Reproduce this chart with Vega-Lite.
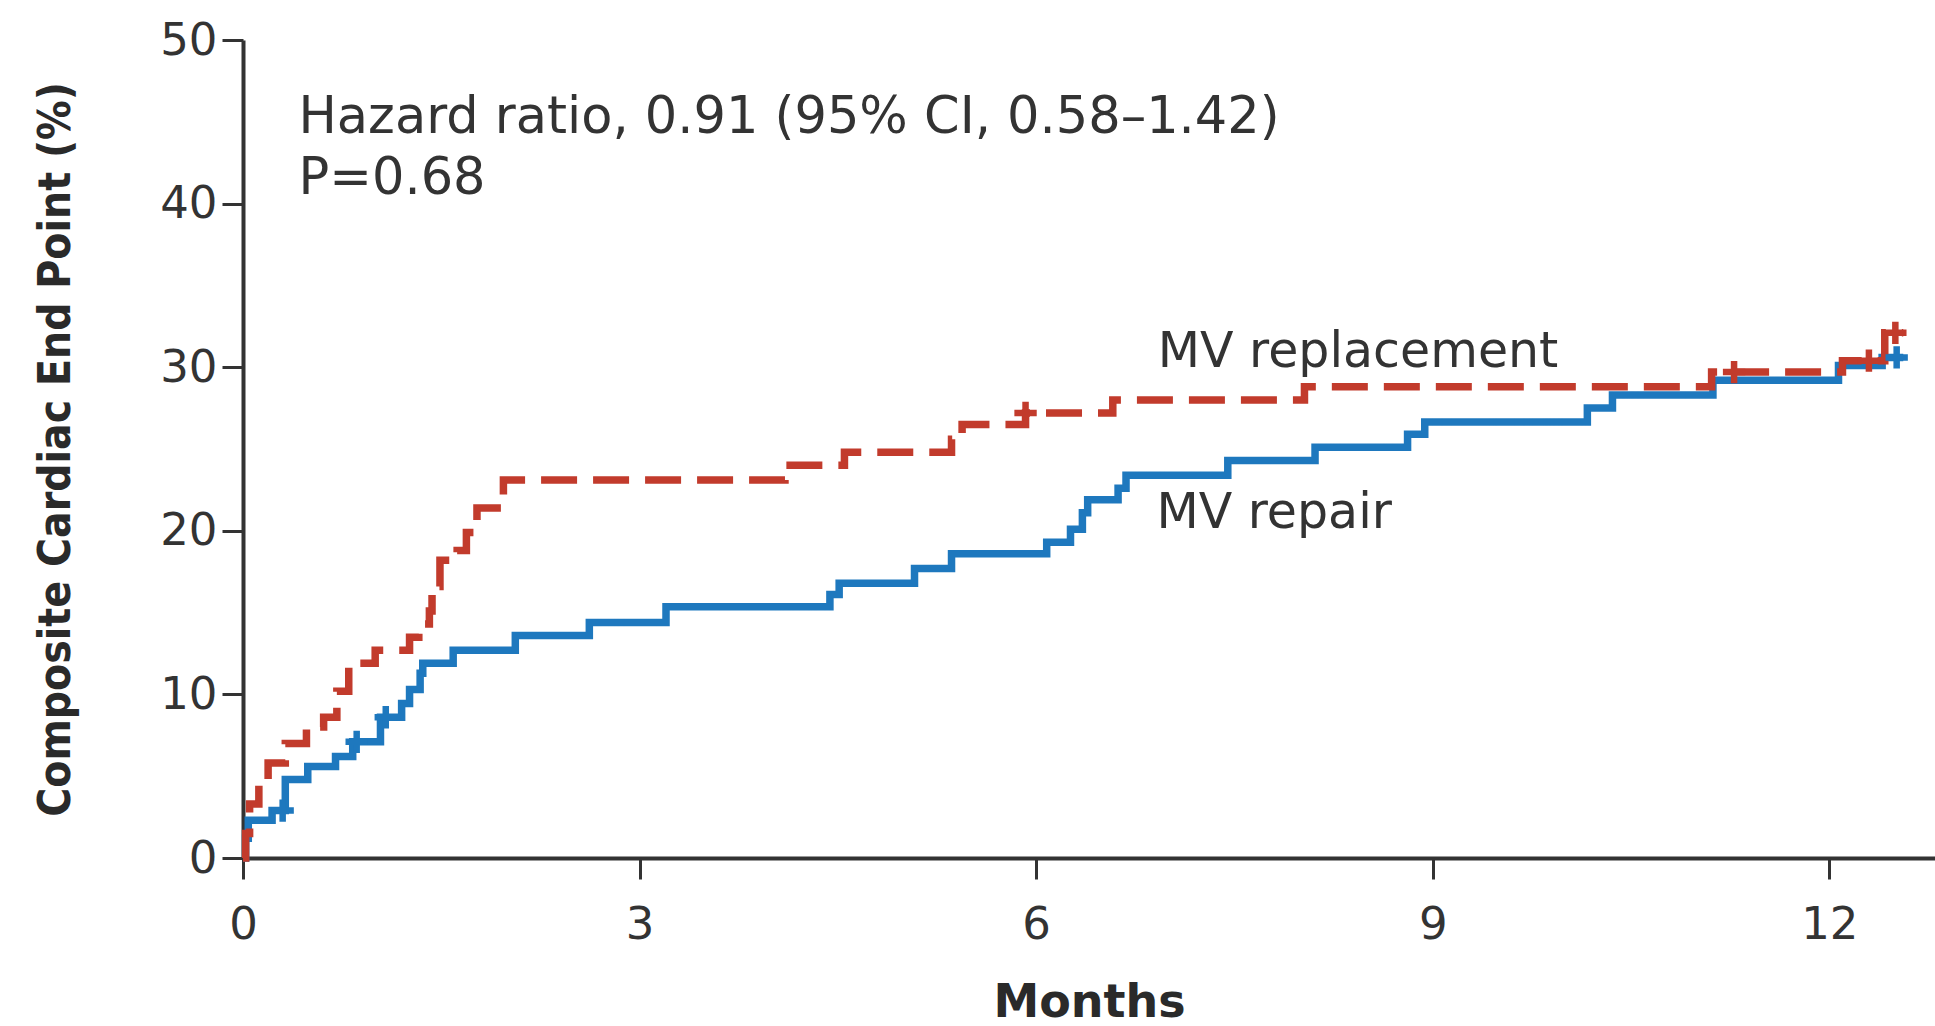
{
  "$schema": "https://vega.github.io/schema/vega-lite/v6.json",
  "width": 1692,
  "height": 818,
  "autosize": {"type": "none"},
  "padding": {"left": 243, "top": 40, "right": 0, "bottom": 168},
  "background": "white",
  "config": {
    "view": {"stroke": null},
    "font": "DejaVu Sans",
    "axis": {
      "domainColor": "#333333",
      "domainWidth": 4,
      "tickColor": "#333333",
      "tickWidth": 3,
      "tickSize": 21,
      "grid": false,
      "labelColor": "#333333",
      "labelFont": "DejaVu Sans",
      "labelFontSize": 45,
      "titleColor": "#2a2a2a",
      "titleFont": "DejaVu Sans"
    }
  },
  "datasets": {
    "curves": [
      {"arm": "MV repair", "month": 0, "pct": 0},
      {"arm": "MV repair", "month": 0.02, "pct": 1.2},
      {"arm": "MV repair", "month": 0.04, "pct": 2.3},
      {"arm": "MV repair", "month": 0.22, "pct": 2.9},
      {"arm": "MV repair", "month": 0.32, "pct": 4.8},
      {"arm": "MV repair", "month": 0.49, "pct": 5.6},
      {"arm": "MV repair", "month": 0.70, "pct": 6.2},
      {"arm": "MV repair", "month": 0.83, "pct": 7.1},
      {"arm": "MV repair", "month": 1.04, "pct": 8.6},
      {"arm": "MV repair", "month": 1.20, "pct": 9.45},
      {"arm": "MV repair", "month": 1.26, "pct": 10.3},
      {"arm": "MV repair", "month": 1.34, "pct": 11.3},
      {"arm": "MV repair", "month": 1.36, "pct": 11.9},
      {"arm": "MV repair", "month": 1.59, "pct": 12.7},
      {"arm": "MV repair", "month": 2.06, "pct": 13.6},
      {"arm": "MV repair", "month": 2.62, "pct": 14.4},
      {"arm": "MV repair", "month": 3.20, "pct": 15.35},
      {"arm": "MV repair", "month": 4.44, "pct": 16.1},
      {"arm": "MV repair", "month": 4.51, "pct": 16.8},
      {"arm": "MV repair", "month": 5.08, "pct": 17.7},
      {"arm": "MV repair", "month": 5.36, "pct": 18.6},
      {"arm": "MV repair", "month": 6.08, "pct": 19.3},
      {"arm": "MV repair", "month": 6.26, "pct": 20.1},
      {"arm": "MV repair", "month": 6.35, "pct": 21.1},
      {"arm": "MV repair", "month": 6.39, "pct": 21.9},
      {"arm": "MV repair", "month": 6.62, "pct": 22.6},
      {"arm": "MV repair", "month": 6.68, "pct": 23.4},
      {"arm": "MV repair", "month": 7.45, "pct": 24.3},
      {"arm": "MV repair", "month": 8.11, "pct": 25.1},
      {"arm": "MV repair", "month": 8.81, "pct": 25.9},
      {"arm": "MV repair", "month": 8.94, "pct": 26.65},
      {"arm": "MV repair", "month": 10.17, "pct": 27.5},
      {"arm": "MV repair", "month": 10.36, "pct": 28.3},
      {"arm": "MV repair", "month": 11.12, "pct": 29.2},
      {"arm": "MV repair", "month": 12.07, "pct": 30.1},
      {"arm": "MV repair", "month": 12.40, "pct": 30.6},
      {"arm": "MV repair", "month": 12.56, "pct": 30.6},
      {"arm": "MV replacement", "month": 0, "pct": 0},
      {"arm": "MV replacement", "month": 0.02, "pct": 1.5},
      {"arm": "MV replacement", "month": 0.05, "pct": 3.3},
      {"arm": "MV replacement", "month": 0.12, "pct": 4.6},
      {"arm": "MV replacement", "month": 0.19, "pct": 5.8},
      {"arm": "MV replacement", "month": 0.32, "pct": 7.0},
      {"arm": "MV replacement", "month": 0.48, "pct": 8.0},
      {"arm": "MV replacement", "month": 0.61, "pct": 8.6},
      {"arm": "MV replacement", "month": 0.71, "pct": 10.2},
      {"arm": "MV replacement", "month": 0.80, "pct": 11.9},
      {"arm": "MV replacement", "month": 1.00, "pct": 12.7},
      {"arm": "MV replacement", "month": 1.26, "pct": 13.5},
      {"arm": "MV replacement", "month": 1.33, "pct": 14.3},
      {"arm": "MV replacement", "month": 1.41, "pct": 15.1},
      {"arm": "MV replacement", "month": 1.43, "pct": 16.6},
      {"arm": "MV replacement", "month": 1.49, "pct": 18.2},
      {"arm": "MV replacement", "month": 1.62, "pct": 18.8},
      {"arm": "MV replacement", "month": 1.69, "pct": 19.9},
      {"arm": "MV replacement", "month": 1.77, "pct": 21.4},
      {"arm": "MV replacement", "month": 1.97, "pct": 23.1},
      {"arm": "MV replacement", "month": 4.10, "pct": 24.0},
      {"arm": "MV replacement", "month": 4.55, "pct": 24.8},
      {"arm": "MV replacement", "month": 5.36, "pct": 25.6},
      {"arm": "MV replacement", "month": 5.44, "pct": 26.5},
      {"arm": "MV replacement", "month": 5.92, "pct": 27.2},
      {"arm": "MV replacement", "month": 6.58, "pct": 28.0},
      {"arm": "MV replacement", "month": 8.03, "pct": 28.8},
      {"arm": "MV replacement", "month": 11.11, "pct": 29.7},
      {"arm": "MV replacement", "month": 12.10, "pct": 30.4},
      {"arm": "MV replacement", "month": 12.42, "pct": 32.1},
      {"arm": "MV replacement", "month": 12.56, "pct": 32.1}
    ],
    "censor": [
      {"arm": "MV repair", "month": 0.30, "pct": 2.9},
      {"arm": "MV repair", "month": 0.86, "pct": 7.1},
      {"arm": "MV repair", "month": 1.08, "pct": 8.6},
      {"arm": "MV repair", "month": 12.51, "pct": 30.6},
      {"arm": "MV replacement", "month": 5.92, "pct": 27.2},
      {"arm": "MV replacement", "month": 11.28, "pct": 29.7},
      {"arm": "MV replacement", "month": 12.30, "pct": 30.4},
      {"arm": "MV replacement", "month": 12.50, "pct": 32.1}
    ],
    "notes": [
      {"label": "Hazard ratio, 0.91 (95% CI, 0.58–1.42)", "month": 0.42, "pct": 44.3, "kind": "stat"},
      {"label": "P=0.68", "month": 0.42, "pct": 40.6, "kind": "stat"},
      {"label": "MV replacement", "month": 6.92, "pct": 30.0, "kind": "arm"},
      {"label": "MV repair", "month": 6.91, "pct": 20.2, "kind": "arm"}
    ]
  },
  "layer": [
    {
      "data": {"name": "curves"},
      "mark": {"type": "line", "interpolate": "step-after", "strokeWidth": 7.5, "strokeCap": "butt", "strokeJoin": "miter"},
      "encoding": {
        "x": {
          "field": "month", "type": "quantitative",
          "scale": {"domain": [0, 12.8], "nice": false, "zero": false},
          "axis": {
            "values": [0, 3, 6, 9, 12],
            "format": "d",
            "title": "Months",
            "titleFontSize": 46,
            "titleFontWeight": "bold",
            "titleBaseline": "alphabetic",
            "titleAnchor": "middle",
            "titleY": 158,
            "labelBaseline": "alphabetic",
            "labelPadding": 59,
            "labelFlush": false
          }
        },
        "y": {
          "field": "pct", "type": "quantitative",
          "scale": {"domain": [0, 50], "nice": false},
          "axis": {
            "values": [0, 10, 20, 30, 40, 50],
            "format": "d",
            "title": "Composite Cardiac End Point (%)",
            "titleFont": "DejaVu Sans Condensed, DejaVu Sans",
            "titleFontSize": 44,
            "titleFontWeight": "bold",
            "titleAngle": -90,
            "titleAlign": "center",
            "titleBaseline": "alphabetic",
            "titleX": -174,
            "titleY": 409,
            "labelPadding": 5,
            "labelFlush": false
          }
        },
        "color": {
          "field": "arm", "type": "nominal",
          "scale": {"domain": ["MV repair", "MV replacement"], "range": ["#1E78BE", "#C23B2C"]},
          "legend": null
        },
        "strokeDash": {
          "field": "arm", "type": "nominal",
          "scale": {"domain": ["MV repair", "MV replacement"], "range": [[1, 0], [36, 16]]},
          "legend": null
        }
      }
    },
    {
      "data": {"name": "censor"},
      "mark": {"type": "point", "shape": "M-1,0H1M0,-1V1", "size": 500, "filled": false, "strokeWidth": 6.5, "opacity": 1},
      "encoding": {
        "x": {"field": "month", "type": "quantitative"},
        "y": {"field": "pct", "type": "quantitative"},
        "color": {"field": "arm", "type": "nominal", "legend": null}
      }
    },
    {
      "data": {"name": "notes"},
      "transform": [{"filter": "datum.kind === 'stat'"}],
      "mark": {"type": "text", "align": "left", "baseline": "alphabetic", "font": "DejaVu Sans", "fontSize": 51, "color": "#333333"},
      "encoding": {
        "x": {"field": "month", "type": "quantitative"},
        "y": {"field": "pct", "type": "quantitative"},
        "text": {"field": "label", "type": "nominal"}
      }
    },
    {
      "data": {"name": "notes"},
      "transform": [{"filter": "datum.kind === 'arm'"}],
      "mark": {"type": "text", "align": "left", "baseline": "alphabetic", "font": "DejaVu Sans", "fontSize": 49, "color": "#333333"},
      "encoding": {
        "x": {"field": "month", "type": "quantitative"},
        "y": {"field": "pct", "type": "quantitative"},
        "text": {"field": "label", "type": "nominal"}
      }
    }
  ]
}
